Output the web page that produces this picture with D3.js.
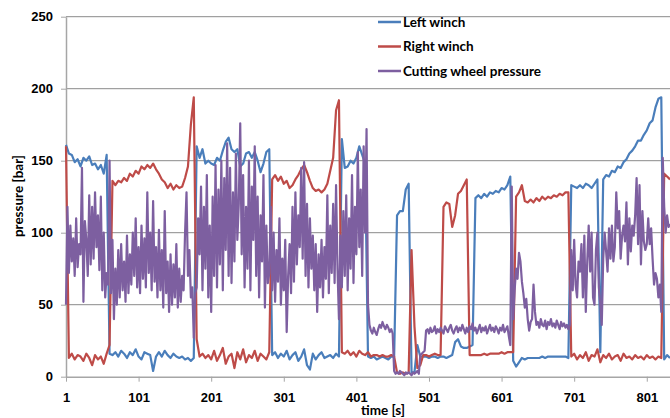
<!DOCTYPE html>
<html>
<head>
<meta charset="utf-8">
<script src="https://cdn.jsdelivr.net/npm/d3@7"></script>
<style>
  body { margin: 0; background: #fff; }
  svg { display: block; font-family: Lato, "Open Sans", sans-serif; }
  .axis text { font-size: 13px; font-weight: bold; fill: #000; }
  .axis path, .axis line { stroke: #a6a6a6; }
  .grid line { stroke: #8a8a8a; stroke-width: 1; }
  .line { fill: none; stroke-width: 2.2; stroke-linejoin: round; }
  .title { font-size: 13.5px; font-weight: bold; }
  .legend text { font-size: 13.5px; font-weight: bold; }
</style>
</head>
<body>
<svg id="chart" width="670" height="418"></svg>
<script>
// winch readings every 4 s, cutting wheel every 2 s
var winchTime = d3.range(1, 834, 4);
var wheelTime = d3.range(1, 834, 2);

var xTicks = [1, 101, 201, 301, 401, 501, 601, 701, 801];
var yTicks = [0, 50, 100, 150, 200, 250];

var seriesNames = ["Left winch", "Right winch", "Cutting wheel pressure"];
var seriesColors = ["#4a7ebb", "#be4b48", "#7d5fa0"];

var leftWinch = [
  161,155,154,149,151,146,152,150,153,147,
  148,144,147,141,154,16,15,17,14,18,
  16,13,17,15,19,14,12,17,16,15,
  4,14,17,14,18,15,13,16,14,13,
  14,12,13,11,13,160,152,158,148,150,
  148,147,152,150,157,163,166,158,156,158,
  146,148,155,156,152,156,150,142,148,156,
  158,15,17,13,16,14,18,12,15,17,
  11,14,19,8,5,16,12,15,17,13,
  14,15,13,16,14,165,145,146,150,148,
  152,160,154,148,14,13,14,12,13,14,
  13,12,14,14,112,115,115,130,134,3,
  3,22,14,14,14,13,14,14,13,14,
  14,13,14,15,24,26,21,20,20,21,
  22,124,126,124,127,125,128,127,129,128,
  131,130,133,139,11,7,10,13,12,13,
  13,13,13,13,14,13,14,14,14,14,
  14,14,14,13,133,132,131,133,131,134,
  133,131,134,137,17,137,140,139,143,142,
  146,145,149,151,155,157,160,164,164,168,
  171,176,178,187,193,194,12,15,13
];

var rightWinch = [
  160,13,16,12,15,14,11,16,13,8,
  15,12,14,9,16,22,136,133,136,135,
  138,136,141,139,143,141,146,144,147,145,
  148,144,141,137,135,131,134,130,133,131,
  132,138,146,175,194,26,14,16,13,15,
  12,18,11,15,20,9,14,16,6,17,
  12,19,10,15,13,18,11,16,14,12,
  17,137,140,136,139,134,136,131,133,137,
  140,144,147,142,136,131,129,130,128,130,
  134,143,152,185,192,17,16,18,15,17,
  14,18,16,15,17,14,15,15,14,15,
  14,14,15,14,3,2,3,2,3,88,
  35,6,8,15,15,14,15,16,15,15,
  118,121,120,104,112,127,129,133,137,15,
  15,15,15,15,16,15,16,16,16,16,
  17,16,17,17,17,125,128,133,122,121,
  123,121,124,122,125,123,125,124,126,125,
  127,126,128,128,14,16,12,15,13,17,
  11,15,14,19,10,15,13,16,12,14,
  15,11,16,13,14,12,15,13,14,12,
  15,13,14,12,14,13,141,139,137
];

var cuttingWheel = [
  50,118,72,105,80,96,70,110,76,92,
  85,145,52,108,95,70,126,78,118,82,
  128,90,112,74,125,60,100,55,72,64,
  150,58,95,40,75,50,88,55,92,60,
  80,52,98,58,85,64,100,70,110,62,
  90,58,105,68,96,62,128,72,100,60,
  122,66,90,55,102,60,88,48,115,58,
  80,45,85,50,78,55,92,48,75,52,
  70,60,100,128,70,88,55,62,27,58,
  62,110,85,132,60,118,75,140,55,105,
  45,125,70,147,62,130,78,150,60,138,
  88,162,70,145,65,128,80,155,95,120,
  176,85,140,62,118,75,150,60,132,95,
  160,70,125,55,112,80,140,48,105,65,
  72,118,60,100,52,88,66,110,50,82,
  60,95,31,70,92,58,118,66,128,78,
  112,90,145,82,149,70,120,62,110,75,
  98,60,92,45,85,62,95,55,90,68,
  126,58,105,72,120,65,133,75,40,98,
  62,115,70,126,60,110,75,140,65,118,
  85,156,90,130,70,160,100,172,50,36,
  32,30,34,31,29,33,36,34,38,35,
  33,36,34,31,33,30,4,2,3,2,
  4,3,2,1,3,2,3,2,1,3,
  2,3,4,2,15,16,17,18,32,33,
  30,34,31,32,35,30,33,31,34,32,
  30,35,33,31,34,36,32,30,33,35,
  31,34,32,36,33,30,34,31,35,33,
  37,32,34,30,33,36,31,34,32,35,
  30,33,36,32,34,31,35,33,30,34,
  32,36,31,33,35,28,22,132,40,60,
  75,68,86,80,66,58,48,54,40,32,
  38,40,64,45,36,38,34,40,36,35,
  39,33,38,36,40,35,37,34,39,36,
  33,38,35,37,34,36,33,36,88,60,
  95,64,55,80,73,92,55,98,45,80,
  105,73,100,55,50,88,100,62,50,36,
  82,100,87,73,103,82,105,80,90,128,
  103,115,82,98,105,94,121,78,110,87,
  105,98,112,138,92,133,78,115,94,88,
  92,110,92,103,82,64,72,68,55,64,
  45,152,118,100,112,104,106
];

var svg = d3.select("#chart"),
    margin = {top: 16.7, right: 0, bottom: 41.3, left: 66},
    width = +svg.attr("width") - margin.left - margin.right,
    height = +svg.attr("height") - margin.top - margin.bottom,
    g = svg.append("g").attr("transform", "translate(" + margin.left + "," + margin.top + ")");

var x = d3.scaleLinear().domain([1, 833]).range([0, width]),
    y = d3.scaleLinear().domain([0, 250]).range([height, 0]);

//horizontal gridlines
g.append("g")
    .attr("class", "grid")
  .selectAll("line")
  .data(yTicks.filter(function(d) { return d > 0; }))
  .enter().append("line")
    .attr("x1", 0)
    .attr("x2", width)
    .attr("y1", function(d) { return y(d); })
    .attr("y2", function(d) { return y(d); });

//axes
g.append("g")
    .attr("class", "axis axis--y")
    .call(d3.axisLeft(y).tickValues(yTicks).tickSize(5).tickPadding(8).tickSizeOuter(0));

g.append("g")
    .attr("class", "axis axis--x")
    .attr("transform", "translate(0," + height + ")")
    .call(d3.axisBottom(x).tickValues(xTicks).tickSize(5).tickPadding(11).tickSizeOuter(0));

g.selectAll(".axis .domain").attr("stroke-width", 1.5);

//pairs each series with its own time grid
var series = [
  {values: leftWinch, time: winchTime, color: seriesColors[0]},
  {values: rightWinch, time: winchTime, color: seriesColors[1]},
  {values: cuttingWheel, time: wheelTime, color: seriesColors[2]}
];

var line = d3.line()
    .x(function(d) { return x(d[0]); })
    .y(function(d) { return y(d[1]); });

g.selectAll(".line")
    .data(series)
    .enter().append("path")
    .attr("class", "line")
    .attr("stroke", function(d) { return d.color; })
    .attr("d", function(d) { return line(d.values.map(function(v, i) { return [d.time[i], v]; })); });

//axis titles
svg.append("text")
    .attr("class", "title")
    .attr("text-anchor", "middle")
    .attr("transform", "translate(23,196) rotate(-90)")
    .text("pressure [bar]");

svg.append("text")
    .attr("class", "title")
    .attr("text-anchor", "middle")
    .attr("x", 383)
    .attr("y", 415)
    .text("time [s]");

//legend
var legend = svg.append("g")
    .attr("class", "legend")
  .selectAll("g")
  .data(seriesNames)
  .enter().append("g")
    .attr("transform", function(d, i) { return "translate(378," + (22 + i * 24.5) + ")"; });

legend.append("line")
    .attr("x1", 0)
    .attr("x2", 23)
    .attr("stroke-width", 2.5)
    .attr("stroke", function(d, i) { return seriesColors[i]; });

legend.append("text")
    .attr("x", 25)
    .attr("dy", "0.35em")
    .text(function(d) { return d; });
</script>
</body>
</html>
